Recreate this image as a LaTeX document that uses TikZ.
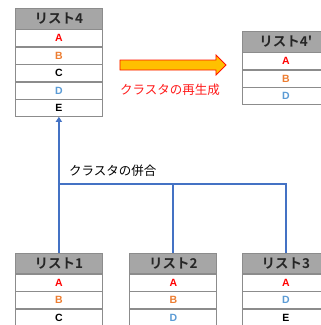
\documentclass[tikz,border=0pt]{standalone}
\usepackage{fontspec}
\setmainfont{Liberation Sans}
\newfontfamily\jpfont{Noto Sans CJK JP}[BoldFont={Noto Sans CJK JP Bold}]
\usetikzlibrary{arrows.meta}

\definecolor{hdrgray}{HTML}{A6A6A6}
\definecolor{rulegray}{HTML}{8C8C8C}
\definecolor{itemA}{HTML}{FF0000}
\definecolor{itemB}{HTML}{ED7D31}
\definecolor{itemD}{HTML}{5B9BD5}
\definecolor{linkblue}{HTML}{4472C4}
\definecolor{arrowfill}{HTML}{FFC000}

\tikzset{
  cell/.style={draw=rulegray, line width=0.8pt, fill=white, inner sep=0pt,
    minimum width=87pt, minimum height=16.7pt, anchor=north west,
    font=\fontsize{10.5}{10.5}\selectfont\bfseries},
  hdr/.style={cell, fill=hdrgray, minimum height=20.5pt,
    font=\jpfont\fontsize{13.5}{13.5}\selectfont\bfseries, text=black!85},
  link/.style={draw=linkblue, line width=2pt},
  note/.style={font=\jpfont\fontsize{12.5}{12.5}\selectfont, anchor=west, inner sep=0pt}
}

% one table: #1 name prefix, #2 x, #3 y, #4 title, #5 list of colour/letter pairs
\newcommand{\listtable}[5]{%
  \node[hdr] (#1h) at (#2,#3) {#4};
  \def\prev{#1h}%
  \foreach \c/\t [count=\i] in {#5} {%
    \node[cell, text=\c] (#1r\i) at (\prev.south west) {\t};
    \xdef\prev{#1r\i}%
  }%
}

\begin{document}
\begin{tikzpicture}[x=1pt,y=-1pt]
\useasboundingbox (0,0) rectangle (321,325);

% merged cluster and regenerated cluster
\listtable{lf}{15}{8}{リスト4}{itemA/A,itemB/B,black/C,itemD/D,black/E}
\listtable{lr}{242}{31}{リスト4'}{itemA/A,itemB/B,itemD/D}

% source clusters
\listtable{la}{15}{252.5}{リスト1}{itemA/A,itemB/B,black/C}
\listtable{lb}{129.5}{252.5}{リスト2}{itemA/A,itemB/B,itemD/D}
\listtable{lc}{242}{252.5}{リスト3}{itemA/A,itemD/D,black/E}

% regeneration arrow (block arrow outline)
\draw[draw=red!85!orange, line width=0.8pt, fill=arrowfill]
  (120,60) -- (216,60) -- (216,55) -- (226,65) -- (216,75) -- (216,70) -- (120,70) -- cycle;
\node[note, text=red!90] (regenlbl) at (120,90) {クラスタの再生成};

% merge connectors
\coordinate (merge) at (58.5,183.5);
\draw[link] (lbh.north) -- (lbh.north |- merge);
\draw[link] (lch.north) |- (merge);
\draw[link, line width=2.3pt, -{Triangle[width=6pt,length=5pt]}] (lah.north) -- (lfr5.south);
\node[note] (mergelbl) at (69,171) {クラスタの併合};
\end{tikzpicture}
\end{document}
